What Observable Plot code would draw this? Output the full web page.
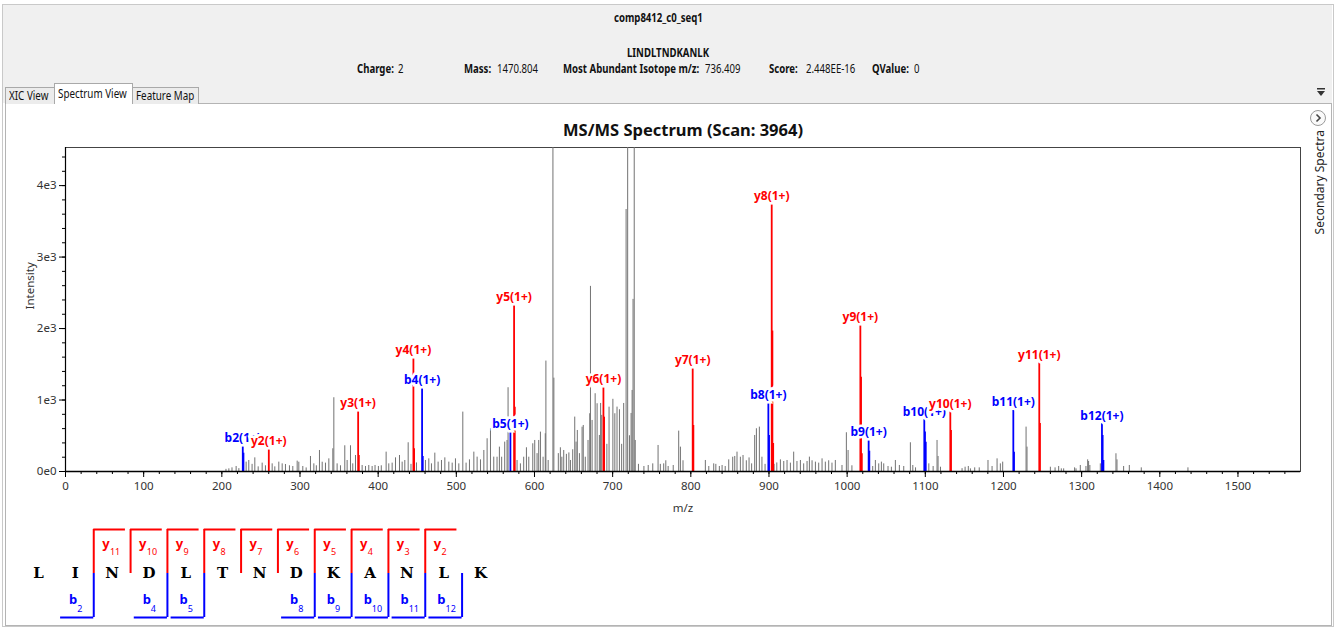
<!DOCTYPE html>
<html>
<head>
<meta charset="utf-8">
<script src="https://cdn.jsdelivr.net/npm/d3@7"></script>
<script src="https://cdn.jsdelivr.net/npm/@observablehq/plot@0.6"></script>
<style>
  html, body { margin: 0; padding: 0; }
  body { width: 1336px; height: 628px; position: relative; overflow: hidden; background: #fff; font-family: "Noto Sans", sans-serif; }
  #window { position: absolute; left: 2px; top: 4px; width: 1330px; height: 621px; border: 1px solid #c9c9c9; }
  #header { position: absolute; left: 3px; top: 5px; width: 1329px; height: 98px; background: #f0f0f0; }
  #panel { position: absolute; left: 5px; top: 103px; width: 1325px; height: 521px; border: 1px solid #b4b4b4; background: #fff; }
  .hd { position: absolute; font-size: 12px; line-height: 14px; color: #111; white-space: nowrap; transform-origin: 0 50%; transform: scaleX(0.8); }
  .b { font-weight: bold; }
  .tab { position: absolute; box-sizing: border-box; border: 1px solid #a9a9a9; border-bottom: none; background: #ececec; }
  .tab span { position: absolute; left: 3px; top: 1px; font-size: 12px; line-height: 14px; white-space: nowrap; transform-origin: 0 50%; transform: scaleX(0.82); color: #111; }
  #side { position: absolute; left: 1311px; top: 130px; writing-mode: vertical-rl; transform: rotate(180deg); font-size: 12px; color: #222; white-space: nowrap; }
  #chart { position: absolute; left: 0; top: 110px; }
  #seq { position: absolute; left: 0; top: 510px; }
</style>
</head>
<body>
<div id="window"></div>
<div id="header"></div>
<div id="panel"></div>

<div class="hd b" style="left:614px;top:11px">comp8412_c0_seq1</div>
<div class="hd b" style="left:627px;top:46px">LINDLTNDKANLK</div>
<div class="hd b" style="left:357px;top:62px">Charge:</div><div class="hd" style="left:398px;top:62px">2</div>
<div class="hd b" style="left:464px;top:62px">Mass:</div><div class="hd" style="left:497px;top:62px">1470.804</div>
<div class="hd b" style="left:563px;top:62px">Most Abundant Isotope m/z:</div><div class="hd" style="left:705px;top:62px">736.409</div>
<div class="hd b" style="left:769px;top:62px">Score:</div><div class="hd" style="left:806px;top:62px">2.448EE-16</div>
<div class="hd b" style="left:872px;top:62px">QValue:</div><div class="hd" style="left:914px;top:62px">0</div>

<div class="tab" style="left:5px;top:87px;width:50px;height:17px"><span>XIC View</span></div>
<div class="tab" style="left:132px;top:87px;width:67px;height:17px"><span>Feature Map</span></div>
<div class="tab" style="left:54px;top:83px;width:79px;height:21px;background:#fff;"><span style="top:3px">Spectrum View</span></div>

<svg style="position:absolute;left:1316px;top:87px" width="12" height="12">
  <rect x="1" y="1" width="8" height="1.5" fill="#333"/>
  <path d="M1 4 L9 4 L5 9 Z" fill="#333"/>
</svg>
<svg style="position:absolute;left:1309px;top:109px" width="18" height="18">
  <circle cx="9" cy="9" r="7.5" fill="#fafafa" stroke="#9a9a9a"/>
  <path d="M7.5 5.5 L11 9 L7.5 12.5" fill="none" stroke="#444" stroke-width="1.6"/>
</svg>
<div id="side">Secondary Spectra</div>

<div id="chart"></div>
<div id="seq"></div>

<script>
// ---- Matched fragment ions (label, series, m/z, intensity) ----
const ionLabels    = ["b2(1+)","y2(1+)","y3(1+)","y4(1+)","b4(1+)","b5(1+)","y5(1+)","y6(1+)","y7(1+)","b8(1+)","y8(1+)","y9(1+)","b9(1+)","b10(1+)","y10(1+)","b11(1+)","y11(1+)","b12(1+)"];
const ionSeries    = ["b","y","y","y","b","b","y","y","y","b","y","y","b","b","y","b","y","b"];
const ionMz        = [226.8, 260.1, 374.4, 445.1, 456.2, 569.2, 573.9, 688.2, 802.4, 899.2, 903.5, 1016.9, 1027.5, 1098.7, 1132.0, 1212.6, 1245.8, 1326.0];
const ionIntensity = [350, 318, 840, 1583, 1172, 551, 2325, 1181, 1447, 957, 3739, 2049, 434, 724, 831, 854, 1517, 668];

// ---- Isotope peaks that sit next to the matched ions ----
const isoSeries    = ["b","y","b","y","y","y","y","b","y","y","y","y","b","b","b","y","b","y","b","b"];
const isoMz        = [227.8, 446.1, 457.2, 375.4, 574.9, 689.2, 803.4, 900.2, 904.5, 905.5, 1017.9, 1018.9, 1028.5, 1099.7, 1100.7, 1133.0, 1213.6, 1246.8, 1327.0, 1328.0];
const isoIntensity = [256, 318, 210, 224, 900, 760, 644, 504, 1965, 392, 1320, 250, 284, 551, 410, 574, 270, 672, 504, 154];

// ---- Unmatched peaks ----
const peakMz = [
  205.3, 209.0, 213.0, 218.3, 221.8, 231.1, 234.5, 238.7, 242.2, 246.5, 251.6, 255.8, 264.4, 267.8, 272.9, 277.2, 281.4, 286.5, 290.8, 296.4,
  298.5, 303.6, 307.9, 313.4, 317.7, 320.9, 324.9, 328.4, 332.6, 336.9, 342.0, 343.3, 347.5, 351.8, 357.3, 360.3, 364.6, 367.5, 371.0, 379.5,
  383.8, 388.0, 392.3, 396.0, 400.3, 404.0, 410.2, 413.6, 417.9, 422.2, 427.3, 430.7, 434.1, 438.4, 442.0, 449.0, 460.5, 464.8, 468.2, 472.5,
  476.7, 481.0, 485.3, 490.4, 494.7, 498.9, 503.2, 508.3, 512.5, 516.8, 522.4, 526.6, 530.9, 535.2, 539.4, 543.7, 547.9, 552.1, 555.1, 558.0,
  561.9, 564.9, 566.2, 577.7, 582.0, 586.2, 589.7, 592.7, 597.8, 600.3, 603.3, 605.4, 607.6, 611.0, 613.8, 614.6, 617.5, 623.6, 624.8, 630.5,
  633.1, 635.0, 637.4, 640.8, 644.0, 646.0, 648.9, 651.5, 653.2, 654.8, 657.5, 660.9, 662.4, 665.0, 668.5, 670.7, 671.6, 673.7, 677.6, 680.1,
  683.0, 684.6, 686.0, 692.6, 695.4, 700.3, 702.8, 705.6, 708.7, 711.5, 714.1, 717.2, 719.2, 721.5, 723.6, 724.9, 726.1, 727.6, 728.9, 733.0,
  740.0, 745.5, 751.3, 758.1, 761.0, 765.3, 768.0, 771.0, 777.5, 784.5, 786.7, 790.0, 818.6, 823.0, 829.3, 832.0, 836.5, 840.0, 844.0, 848.5,
  853.6, 856.2, 859.1, 863.4, 866.8, 871.0, 874.5, 877.8, 881.7, 883.9, 887.7, 891.0, 895.0, 906.5, 910.0, 914.6, 918.9, 923.1, 927.4, 931.6,
  935.8, 940.2, 944.4, 948.7, 951.7, 955.1, 959.4, 963.6, 967.9, 972.1, 976.4, 980.6, 984.9, 993.4, 999.0, 1001.2, 1006.1, 1032.7, 1036.1, 1040.4,
  1043.8, 1046.8, 1052.3, 1056.6, 1061.7, 1066.8, 1072.4, 1080.9, 1084.0, 1087.5, 1104.5, 1110.0, 1115.0, 1116.3, 1119.4, 1147.0, 1150.9, 1155.0, 1157.7, 1163.2,
  1169.0, 1180.2, 1185.4, 1191.8, 1196.0, 1199.0, 1228.9, 1230.1, 1260.0, 1266.0, 1270.6, 1274.0, 1277.0, 1291.0, 1292.8, 1298.3, 1305.5, 1307.7, 1308.9, 1310.5,
  1323.9, 1343.9, 1345.2, 1353.7, 1361.0, 1376.3, 1436.0
];
const peakIntensity = [
  30, 37, 51, 70, 40, 131, 154, 100, 191, 65, 117, 80, 107, 65, 131, 107, 98, 80, 70, 145,
  130, 70, 50, 210, 107, 80, 294, 130, 117, 177, 318, 1032, 107, 80, 360, 154, 360, 107, 224, 84,
  70, 84, 70, 84, 70, 80, 271, 107, 117, 191, 224, 131, 154, 402, 100, 120, 154, 177, 107, 257,
  131, 154, 191, 131, 117, 177, 107, 831, 117, 163, 271, 201, 163, 294, 458, 598, 201, 200, 341, 200,
  411, 434, 1172, 154, 107, 200, 332, 200, 388, 434, 250, 434, 551, 200, 528, 1545, 154, 7800, 1306, 250,
  332, 200, 294, 240, 260, 154, 304, 761, 411, 574, 250, 620, 644, 200, 434, 808, 2590, 714, 1088, 948,
  504, 952, 785, 380, 900, 1010, 808, 901, 864, 380, 952, 3665, 9000, 500, 812, 1134, 2408, 8500, 434, 100,
  70, 84, 107, 364, 100, 107, 150, 70, 84, 565, 341, 150, 154, 70, 107, 100, 70, 84, 70, 163,
  200, 210, 271, 200, 224, 150, 190, 107, 504, 598, 621, 200, 100, 100, 120, 163, 140, 154, 117, 271,
  140, 154, 107, 140, 201, 150, 131, 117, 177, 131, 150, 117, 154, 84, 542, 294, 80, 70, 154, 107,
  131, 107, 70, 60, 154, 84, 70, 402, 84, 51, 107, 70, 434, 210, 60, 40, 60, 70, 37, 51,
  51, 154, 70, 177, 107, 131, 621, 341, 60, 51, 70, 37, 37, 51, 37, 84, 70, 163, 140, 84,
  107, 248, 163, 70, 84, 51, 51
];

// ---- Axes ----
const xTickLabels = ["0","100","200","300","400","500","600","700","800","900","1000","1100","1200","1300","1400","1500"];
const yTickValues = [0, 1000, 2000, 3000, 4000];
const yTickLabels = ["0e0","1e3","2e3","3e3","4e3"];

// ---- Peptide sequence and observed fragment ladders ----
const residues    = ["L","I","N","D","L","T","N","D","K","A","N","L","K"];
const yIonNumbers = [11, 10, 9, 8, 7, 6, 5, 4, 3, 2];
const bIonNumbers = [2, 4, 5, 8, 9, 10, 11, 12];

const RED = "#ff0000", BLUE = "#0000ff";
const seriesColor = s => s === "b" ? BLUE : RED;

const ions = ionLabels.map((label, i) => ({label, series: ionSeries[i], mz: ionMz[i], intensity: ionIntensity[i]}));
const isotopes = isoMz.map((mz, i) => ({series: isoSeries[i], mz, intensity: isoIntensity[i]}));
const peaks = peakMz.map((mz, i) => ({mz, intensity: peakIntensity[i]}));
const xTickValues = xTickLabels.map(Number);
const xMinor = d3.range(0, 1580, 20);
const yMinor = d3.range(0, 4533, 200);

const labelFont = "'Noto Sans', sans-serif";

const spectrum = Plot.plot({
  width: 1305,
  height: 410,
  marginLeft: 65,
  marginRight: 5,
  marginTop: 37,
  marginBottom: 49,
  x: {domain: [0, 1580]},
  y: {domain: [0, 4533]},
  style: {fontFamily: labelFont, fontSize: "11.5px", color: "#222", background: "transparent", overflow: "visible"},
  marks: [
    Plot.frame({stroke: "#444"}),
    Plot.ruleX(peaks, {x: "mz", y1: 0, y2: "intensity", stroke: "#727272", clip: true}),
    Plot.ruleX(isotopes, {x: "mz", y1: 0, y2: "intensity", stroke: d => seriesColor(d.series), strokeWidth: 1.6}),
    Plot.ruleX(ions, {x: "mz", y1: 0, y2: "intensity", stroke: d => seriesColor(d.series), strokeWidth: 1.8}),
    // b-ion labels first, y-ion labels on top of them
    Plot.text(ions.filter(d => d.series === "b").concat(ions.filter(d => d.series === "y")), {
      x: "mz", y: "intensity", text: "label", dy: -8,
      fill: d => seriesColor(d.series), fontWeight: "bold", fontSize: 12, fontFamily: labelFont,
      stroke: "white", strokeWidth: 5, strokeLinejoin: "miter", paintOrder: "stroke"
    }),
    Plot.ruleY([0], {stroke: "#000", strokeWidth: 1.5}),
    Plot.ruleX([0], {stroke: "#000", strokeWidth: 1.2}),
    Plot.axisX({ticks: xMinor, tickSize: 3, tickFormat: () => "", label: null, stroke: "#000"}),
    Plot.axisX({ticks: xTickValues, tickSize: 6, tickPadding: 4, tickFormat: d => xTickLabels[xTickValues.indexOf(d)], label: null, stroke: "#000", fill: "#333"}),
    Plot.axisY({ticks: yMinor, tickSize: 3, tickFormat: () => "", label: null, stroke: "#000"}),
    Plot.axisY({ticks: yTickValues, tickSize: 6, tickPadding: 3, tickFormat: d => yTickLabels[yTickValues.indexOf(d)], label: null, stroke: "#000", fill: "#333"}),
    Plot.text(["m/z"], {frameAnchor: "bottom", lineAnchor: "middle", dy: 37, fontSize: 11.5, fill: "#333"}),
    Plot.text(["Intensity"], {frameAnchor: "left", dx: -35, rotate: -90, fontSize: 11.5, fill: "#333"}),
    Plot.text(["MS/MS Spectrum (Scan: 3964)"], {frameAnchor: "top", lineAnchor: "middle", dy: -17, fontSize: 16.5, fontWeight: "bold", fill: "#111"})
  ]
});
document.getElementById("chart").appendChild(spectrum);

// Fragment ladder drawn over the residue positions
const yPos = n => 12.5 - n;   // cleavage site of y_n
const bPos = n => n - 0.5;    // cleavage site of b_n
const seqFont = "'DejaVu Serif', serif";

const ladder = Plot.plot({
  width: 520,
  height: 120,
  marginLeft: 38,
  marginRight: 40,
  marginTop: 19,
  marginBottom: 13,
  x: {domain: [0, 12], axis: null},
  y: {domain: [-1, 1], axis: null},
  style: {background: "transparent", overflow: "visible"},
  marks: [
    Plot.ruleX(yIonNumbers, {x: yPos, y1: 0, y2: 1, stroke: RED, strokeWidth: 2}),
    Plot.ruleY(yIonNumbers, {y: 1, x1: yPos, x2: n => yPos(n) + 0.86, stroke: RED, strokeWidth: 2}),
    Plot.ruleX(bIonNumbers, {x: bPos, y1: -1, y2: 0, stroke: BLUE, strokeWidth: 2}),
    Plot.ruleY(bIonNumbers, {y: -1, x1: n => bPos(n) - 0.9, x2: bPos, stroke: BLUE, strokeWidth: 2}),
    Plot.text(residues, {x: (d, i) => i, y: 0, text: d => d, fontFamily: seqFont, fontWeight: "bold", fontSize: 15, fill: "#000"}),
    Plot.text(yIonNumbers, {x: n => yPos(n) + 0.33, y: 0.68, text: () => "y", fill: RED, fontWeight: "bold", fontSize: 13, fontFamily: labelFont}),
    Plot.text(yIonNumbers, {x: n => yPos(n) + 0.44, y: 0.48, text: n => String(n), textAnchor: "start", fill: RED, fontSize: 9, fontFamily: labelFont}),
    Plot.text(bIonNumbers, {x: n => bPos(n) - 0.56, y: -0.6, text: () => "b", fill: BLUE, fontWeight: "bold", fontSize: 13, fontFamily: labelFont}),
    Plot.text(bIonNumbers, {x: n => bPos(n) - 0.45, y: -0.82, text: n => String(n), textAnchor: "start", fill: BLUE, fontSize: 9, fontFamily: labelFont})
  ]
});
document.getElementById("seq").appendChild(ladder);
</script>
</body>
</html>
